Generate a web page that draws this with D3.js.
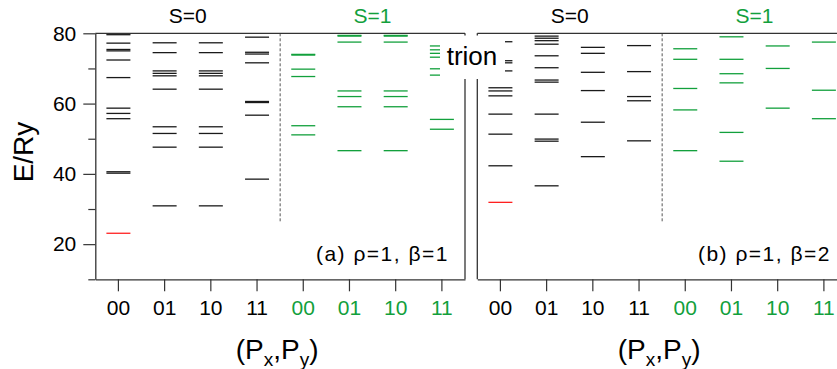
<!DOCTYPE html>
<html><head><meta charset="utf-8">
<script src="https://cdn.jsdelivr.net/npm/d3@7"></script>
<style>
html,body{margin:0;padding:0;background:#fff;}
svg{display:block;font-family:"Liberation Sans",Arial,Helvetica,sans-serif;}
</style></head>
<body>
<svg id="chart" width="837" height="369"></svg>
<script>
// ---------------- data ----------------
const categories = ["00","01","10","11","00","01","10","11"];
const spinOfCategory = [0,0,0,0,1,1,1,1];
const spinLabels = ["S=0","S=1"];
const yMajorTicks = [20,40,60,80];
const yMinorTicks = [10,30,50,70];

// panel (a): rho=1, beta=1  -- energy levels (E/Ry) per category
const levelsA = [
  [79.9, 79.6, 77.2, 75.4, 75.0, 72.4, 67.4, 58.7, 57.2, 55.7, 40.6, 40.2],
  [77.3, 74.5, 69.3, 68.6, 67.9, 64.1, 53.4, 51.5, 47.6, 30.9],
  [77.3, 74.5, 69.3, 68.6, 67.9, 64.1, 53.4, 51.5, 47.6, 30.9],
  [78.9, 74.6, 74.1, 71.6, 60.6, 60.3, 56.7, 38.5],
  [74.0, 73.8, 69.8, 67.7, 53.7, 51.1],
  [79.4, 79.2, 77.5, 63.6, 62.0, 59.1, 46.6],
  [79.4, 79.2, 77.5, 63.6, 62.0, 59.1, 46.6],
  [76.4, 75.3, 74.3, 73.2, 69.9, 68.1, 55.5, 52.7]
];
const groundA = 23.1;   // red level, category 0
const labelA = "(a) \u03C1=1, \u03B2=1";

// panel (b): rho=1, beta=2
const levelsB = [
  [77.6, 72.2, 71.6, 69.3, 64.5, 63.6, 62.2, 57.0, 51.3, 42.3],
  [79.2, 78.6, 77.9, 76.9, 73.6, 70.2, 66.7, 66.1, 57.0, 49.9, 49.3, 36.6],
  [76.0, 74.3, 68.9, 63.7, 54.7, 44.9],
  [76.5, 69.1, 62.0, 60.8, 49.4],
  [75.6, 72.6, 64.3, 58.2, 46.6],
  [79.0, 72.6, 68.5, 65.9, 51.8, 43.6],
  [76.4, 70.0, 58.7],
  [77.5, 63.8, 55.7]
];
const groundB = 31.9;
const labelB = "(b) \u03C1=1, \u03B2=2";

// ---------------- layout ----------------
const C_BLACK = "#1a1a1a", C_GREEN = "#12a03c", C_RED = "#ff2020", C_AXIS = "#333";
const yTop = 33.3, yBot = 279.3;
const panelW = 369.7;
const panels = [
  {x0: 95.3, levels: levelsA, ground: groundA, label: labelA, yaxis: true},
  {x0: 477.3, levels: levelsB, ground: groundB, label: labelB, yaxis: false}
];

const svg = d3.select("#chart");
const y = d3.scaleLinear().domain([10, 80]).range([yBot, yTop]);
const halfLen = 12;

panels.forEach((p, pi) => {
  const x = d3.scaleBand().domain(d3.range(categories.length)).range([p.x0, p.x0 + panelW]).padding(0);
  const cx = i => x(i) + x.bandwidth() / 2;
  const g = svg.append("g");

  // level lines
  const segs = [];
  p.levels.forEach((arr, i) => arr.forEach(e => segs.push({i, e, c: spinOfCategory[i] ? C_GREEN : C_BLACK})));
  segs.push({i: 0, e: p.ground, c: C_RED});
  g.append("g").selectAll("line").data(segs).join("line")
    .attr("x1", d => cx(d.i) - halfLen).attr("x2", d => cx(d.i) + halfLen)
    .attr("y1", d => y(d.e)).attr("y2", d => y(d.e))
    .attr("stroke", d => d.c).attr("stroke-width", 1.3);

  // dashed separator between S=0 and S=1
  const sepX = x(4);
  g.append("line").attr("x1", sepX).attr("x2", sepX)
    .attr("y1", yTop).attr("y2", y(26.5))
    .attr("stroke", "#555").attr("stroke-width", 1).attr("stroke-dasharray", "3,2");

  // frame
  g.append("line").attr("x1", p.x0).attr("x2", p.x0 + panelW).attr("y1", yTop).attr("y2", yTop)
    .attr("stroke", C_AXIS).attr("stroke-width", 1.3);
  if (pi === 0) {
    g.append("line").attr("x1", p.x0 + panelW).attr("x2", p.x0 + panelW).attr("y1", yTop).attr("y2", yBot)
      .attr("stroke", C_AXIS).attr("stroke-width", 1.3);
  } else {
    g.append("line").attr("x1", p.x0).attr("x2", p.x0).attr("y1", yTop).attr("y2", yBot)
      .attr("stroke", C_AXIS).attr("stroke-width", 1.3);
  }

  // bottom axis
  const xAxis = g.append("g").attr("transform", `translate(0,${yBot})`)
    .call(d3.axisBottom(x).tickSize(12).tickSizeOuter(0).tickPadding(9).tickFormat(i => categories[i]));
  xAxis.select(".domain").attr("stroke", C_AXIS).attr("stroke-width", 1.3);
  xAxis.selectAll(".tick line").attr("stroke", C_AXIS).attr("stroke-width", 1.2);
  xAxis.selectAll(".tick text").attr("font-size", 21).attr("font-family", null)
    .attr("fill", i => spinOfCategory[i] ? C_GREEN : "#000");

  // left axis
  if (p.yaxis) {
    const ya = g.append("g").attr("transform", `translate(${p.x0},0)`)
      .call(d3.axisLeft(y).tickValues(yMajorTicks).tickSize(12).tickSizeOuter(0).tickPadding(7));
    ya.select(".domain").attr("stroke", C_AXIS).attr("stroke-width", 1.3);
    ya.selectAll(".tick line").attr("stroke", C_AXIS).attr("stroke-width", 1.2);
    ya.selectAll(".tick text").attr("font-size", 21).attr("font-family", null).attr("fill", "#000");
    const ym = g.append("g").attr("transform", `translate(${p.x0},0)`)
      .call(d3.axisLeft(y).tickValues(yMinorTicks).tickSize(7).tickFormat(""));
    ym.select(".domain").remove();
    ym.selectAll(".tick line").attr("stroke", C_AXIS).attr("stroke-width", 1.2);
  }

  // spin labels
  [0, 1].forEach(s => {
    const mid = (cx(s * 4) + cx(s * 4 + 3)) / 2;
    g.append("text").attr("x", mid).attr("y", 23).attr("text-anchor", "middle")
      .attr("font-size", 21).attr("fill", s ? C_GREEN : "#000").text(spinLabels[s]);
  });

  // panel label
  g.append("text").attr("x", p.x0 + panelW - 16).attr("y", 261).attr("text-anchor", "end")
    .attr("font-size", 21).attr("letter-spacing", 1.5).attr("fill", "#000").text(p.label);

  // x axis title
  const t = g.append("text").attr("x", p.x0 + panelW / 2 - 3).attr("y", 359)
    .attr("text-anchor", "middle").attr("font-size", 28).attr("fill", "#000");
  t.append("tspan").text("(P");
  t.append("tspan").attr("dy", 7).attr("font-size", 19).text("x");
  t.append("tspan").attr("dy", -7).text(",P");
  t.append("tspan").attr("dy", 7).attr("font-size", 19).text("y");
  t.append("tspan").attr("dy", -7).text(")");
});

// y axis title
svg.append("text").attr("transform", "translate(33,152) rotate(-90)")
  .attr("text-anchor", "middle").attr("font-size", 28).attr("fill", "#000").text("E/Ry");

// trion box
svg.append("rect").attr("x", 440).attr("y", 35.5).attr("width", 65).attr("height", 43.5).attr("fill", "#fff");
svg.append("text").attr("x", 472).attr("y", 65).attr("text-anchor", "middle")
  .attr("font-size", 26).attr("fill", "#000").text("trion");
</script>
</body></html>
